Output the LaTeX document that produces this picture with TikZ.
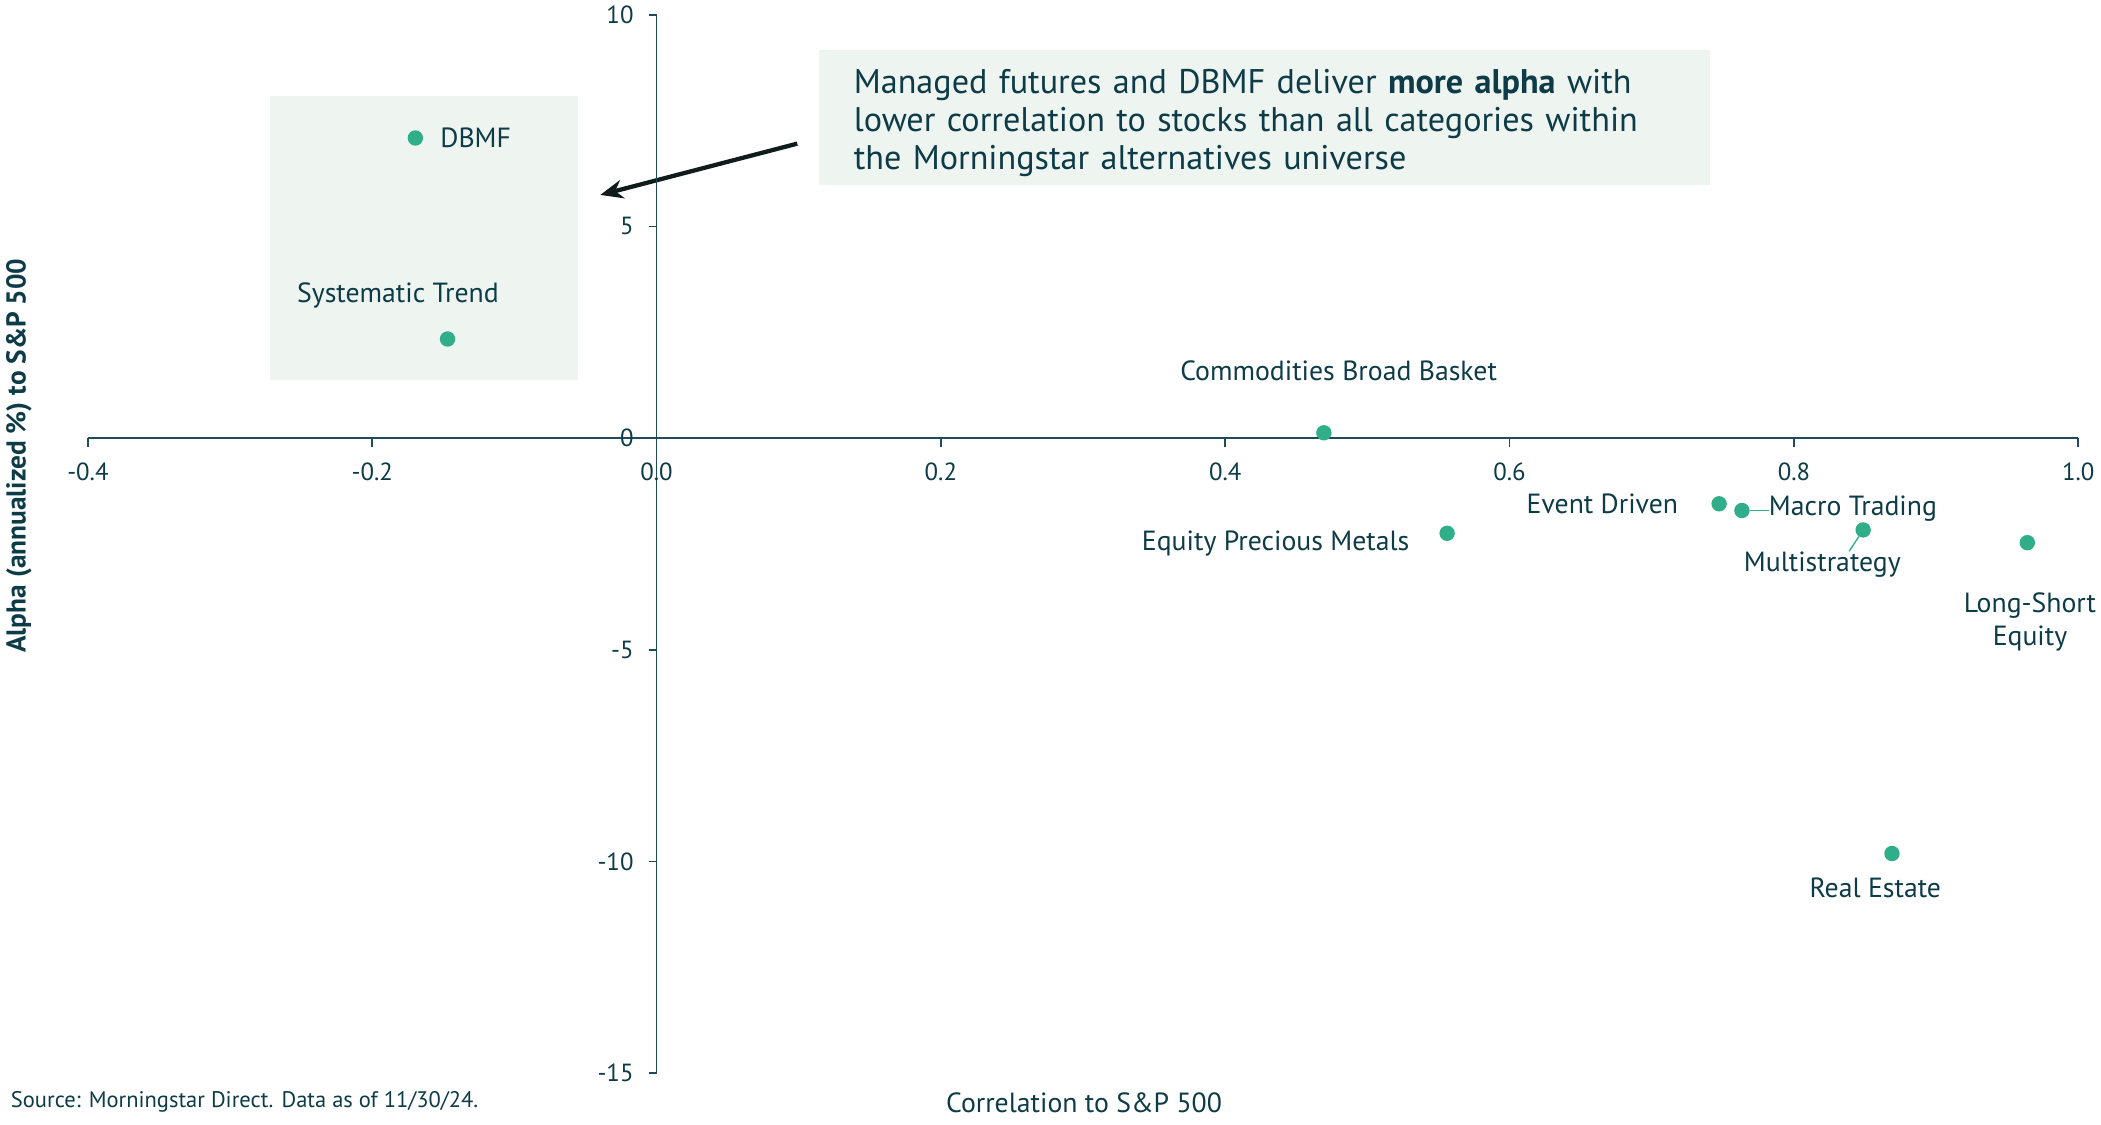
\documentclass[tikz,border=0pt]{standalone}
\usepackage{fontspec}
\setmainfont{PT Sans}
\usetikzlibrary{positioning,arrows.meta}
\definecolor{inkteal}{HTML}{0D3B47}
\definecolor{axisteal}{HTML}{1F4C58}
\definecolor{dotgreen}{HTML}{2FAE89}
\definecolor{boxmint}{HTML}{EEF5F0}
\definecolor{arrowink}{HTML}{101C1C}
\tikzset{
    dot/.style={circle, fill=dotgreen, inner sep=0pt, minimum size=11.5pt},
    lab/.style={inner sep=0pt, text=inkteal, font=\fontsize{20.7}{25}\selectfont},
    ticklab/.style={inner sep=0pt, text=inkteal, font=\fontsize{18.5}{22}\selectfont},
    axisline/.style={draw=axisteal, line width=1.2pt},
    leader/.style={draw=dotgreen, line width=1pt},
}
\begin{document}
\begin{tikzpicture}[x=1061pt, y=31.6pt]
            \useasboundingbox (-0.46183, -16.203) rectangle (1.01602, 10.348);
            \node[fill=boxmint, inner sep=0pt, minimum width=229.5pt, minimum height=211.5pt, anchor=north west] (trendbox) at (-0.27191, 8.0823) {};
            \node[fill=boxmint, text=inkteal, anchor=north west, inner xsep=26pt, inner ysep=0pt, minimum height=101pt, text width=613pt, text height=26pt, align=left, font=\fontsize{25.5}{28.5}\selectfont] (callout) at (0.11404, 9.1772) {Managed futures and DBMF deliver \textbf{more alpha} with\\lower correlation to stocks than all categories within\\the Morningstar alternatives universe};
            \coordinate (arrowtip) at (-0.03959, 5.7437);
            \draw[-{Stealth[length=17pt, width=14pt]}, draw=arrowink, fill=arrowink, line width=3.2pt] ([xshift=-16pt, yshift=-19.5pt]callout.west) -- (arrowtip);
            \draw[axisline] (-0.4, 0) -- (1, 0);
            \draw[axisline] (0, 10) -- (0, -15);
            \foreach \x [count=\i] in {-0.4, -0.2, 0.0, 0.2, 0.4, 0.6, 0.8, 1.0} {
                \draw[axisline] (\x, 0) -- ++(0pt, -6.5pt);
                \node[ticklab, below=18pt] (xtick\i) at (\x, 0) {\x};
            }
            \foreach \y [count=\j] in {10, 5, 0, -5, -10, -15} {
                \draw[axisline] (0, \y) -- ++(-6pt, 0pt);
                \node[ticklab, left=17pt] (ytick\j) at (0, \y) {\y};
            }
            \node[dot] (dbmf) at (-0.16965, 7.0886) {};
            \node[lab, right=12.5pt of dbmf] (dbmflab) {DBMF};
            \node[dot] (systrend) at (-0.14703, 2.3418) {};
            \node[lab, above=17pt of systrend, xshift=-37pt] (systrendlab) {Systematic Trend};
            \node[dot] (commod) at (0.46937, 0.1266) {};
            \node[lab, above=32.5pt of commod, xshift=11pt] (commodlab) {Commodities Broad Basket};
            \node[dot] (precious) at (0.55608, -2.2468) {};
            \node[lab, left=22pt of precious, yshift=-8pt] (preciouslab) {Equity Precious Metals};
            \node[dot] (eventdrv) at (0.74741, -1.5506) {};
            \node[lab, left=24.5pt of eventdrv] (eventdrvlab) {Event Driven};
            \node[dot] (macro) at (0.76343, -1.7089) {};
            \node[lab, right=14pt of macro, yshift=1.5pt] (macrolab) {Macro Trading};
            \node[dot] (multistrat) at (0.84873, -2.1677) {};
            \node[lab, below=10pt of multistrat, xshift=-30.5pt] (multistratlab) {Multistrategy};
            \node[dot] (longshort) at (0.96418, -2.4684) {};
            \node[lab, below=31pt of longshort, xshift=2pt, align=center] (longshortlab) {Long-Short\\Equity};
            \node[dot] (realestate) at (0.86899, -9.8101) {};
            \node[lab, below=12pt of realestate, xshift=-12.5pt] (realestatelab) {Real Estate};
            \draw[leader] (macro.east) -- (macro.east -| macrolab.west);
            \draw[leader] (multistrat) -- ([xshift=20pt]multistratlab.north);
            \node[lab, font=\bfseries\fontsize{20.4}{24}\selectfont, rotate=90] (ylab) at (-0.44863, -0.4114) {Alpha (annualized \%) to S\&P 500};
            \node[lab] (xlab) at (0.30066, -15.6962) {Correlation to S\&P 500};
            \node[lab, font=\fontsize{16.8}{20}\selectfont, anchor=west] (source) at (-0.45429, -15.665) {Source: Morningstar Direct. Data as of 11/30/24.};
\end{tikzpicture}
\end{document}
